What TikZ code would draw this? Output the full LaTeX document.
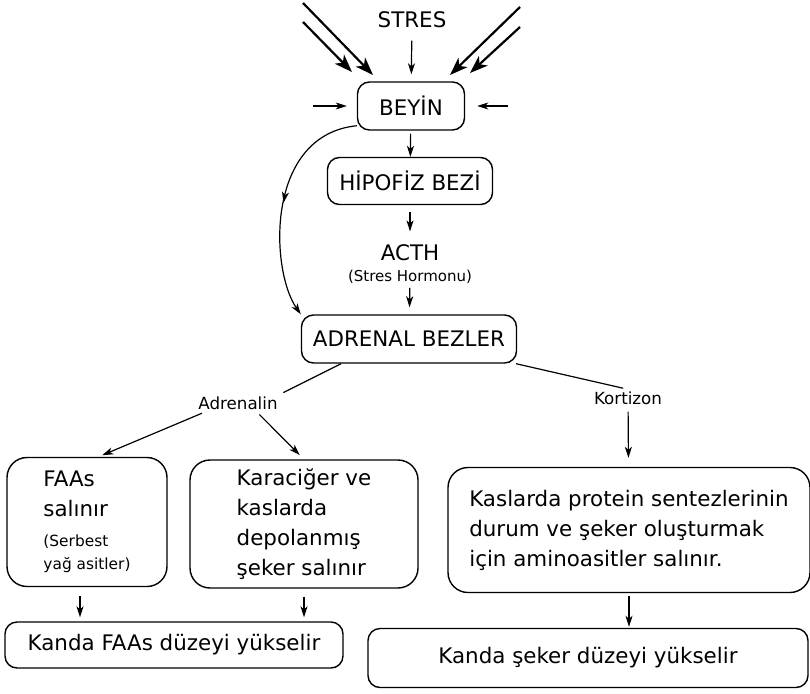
\documentclass[tikz,border=0pt]{standalone}
\usepackage{fontspec}
\setmainfont{DejaVu Sans}
\usetikzlibrary{arrows.meta,decorations.markings}

\begin{document}
\begin{tikzpicture}[x=1pt,y=-1pt,>={Stealth[length=11pt,width=7pt,inset=3pt]},
  kutu/.style={draw,line width=1.4pt,rounded corners=12pt,font=\fontsize{21.4}{30}\selectfont},
  buyukkutu/.style={kutu,rounded corners=20pt,align=left},
  etiket/.style={font=\fontsize{16.7}{20}\selectfont,inner sep=2pt},
  ince/.style={line width=1.2pt},
  kalin/.style={line width=2.2pt,-{Stealth[length=18pt,width=13pt,inset=5pt]}}]
\useasboundingbox (0,0) rectangle (810,693);
\node[font=\fontsize{21.4}{26}\selectfont] (stres) at (412,20) {STRES};
\node[kutu,minimum width=107pt,minimum height=48pt] (beyin) at (411,106) {BEYİN};
\node[kutu,minimum width=165pt,minimum height=47pt] (hipofiz) at (410,181) {HİPOFİZ BEZİ};
\node[font=\fontsize{21.4}{26}\selectfont] (acth) at (410,253) {ACTH};
\node[font=\fontsize{15}{18}\selectfont,inner sep=2pt] (hormon) at (410,277) {(Stres Hormonu)};
\node[kutu,minimum width=215pt,minimum height=48pt] (adrenal) at (409,339) {ADRENAL BEZLER};
\node[etiket] (adrenalin) at (238,403) {Adrenalin};
\node[etiket] (kortizon) at (628,398) {Kortizon};
\node[buyukkutu,minimum width=160pt,minimum height=129pt] (faas) at (87,522)
  {FAAs\\salınır\\{\fontsize{15.4}{22}\selectfont (Serbest}\\[-7pt]{\fontsize{15.4}{22}\selectfont yağ asitler)}};
\node[buyukkutu,minimum width=228pt,minimum height=128pt] (karaciger) at (304,524)
  {Karaciğer ve\\kaslarda\\depolanmış\\şeker salınır};
\node[buyukkutu,minimum width=362pt,minimum height=125pt] (kaslarda) at (629,530)
  {Kaslarda protein sentezlerinin\\durum ve şeker oluşturmak\\için aminoasitler salınır.};
\node[kutu,minimum width=338pt,minimum height=46pt] (sonsol) at (174,645) {Kanda FAAs düzeyi yükselir};
\node[kutu,minimum width=440pt,minimum height=59pt] (sonsag) at (588,658) {Kanda şeker düzeyi yükselir};
\coordinate (sol1) at (303,3);
\coordinate (sol1uc) at (373,75);
\coordinate (sol2) at (303,22);
\coordinate (sol2uc) at (352,72);
\coordinate (sag1) at (520,7);
\coordinate (sag1uc) at (450,75);
\coordinate (sag2) at (520,27);
\coordinate (sag2uc) at (470,73);
\coordinate (solok) at (313,106);
\coordinate (sagok) at (508,106);
\draw[kalin] (sol1) -- (sol1uc);
\draw[kalin] (sol2) -- (sol2uc);
\draw[kalin] (sag1) -- (sag1uc);
\draw[kalin] (sag2) -- (sag2uc);
\draw[ince,->,shorten <=9pt,shorten >=7pt] (stres) -- (beyin);
\draw[ince,->,shorten >=10pt] (solok) -- (beyin.west);
\draw[ince,->,shorten >=12pt] (sagok) -- (beyin.east);
\draw[ince,->,shorten <=3pt] (beyin) -- (hipofiz);
\draw[ince,->,shorten <=7pt,shorten >=10pt] (hipofiz) -- (acth);
\draw[ince,->,shorten <=2pt,shorten >=7pt] (hormon) -- (adrenal);
\draw[ince,->,postaction={decorate,decoration={markings,mark=at position 0.5 with {\arrow{Stealth[length=11pt,width=7pt,inset=3pt]}}}}]
  (beyin.200) .. controls (265,135) and (270,270) .. (adrenal.north west);
\draw[ince,shorten >=4pt] (adrenal.200) -- (adrenalin.north east);
\draw[ince,shorten >=5pt] (adrenal.-13) -- (kortizon.north);
\draw[ince,->,shorten <=4pt,shorten >=4pt] (adrenalin.195) -- (faas.80);
\draw[ince,->,shorten <=4pt,shorten >=6pt] (adrenalin.-25) -- (karaciger.north);
\draw[ince,->,shorten <=5pt,shorten >=9pt] (kortizon) -- (kaslarda);
\draw[ince,->,shorten <=3pt,shorten >=1pt] (kaslarda.south) -- (kaslarda.south |- sonsag.north);
\draw[ince,->,shorten <=9pt,shorten >=4pt] ([xshift=-7pt]faas.south) -- ([xshift=-7pt]faas.south |- sonsol.north);
\draw[ince,->,shorten <=8pt,shorten >=4pt] (karaciger.south) -- (karaciger.south |- sonsol.north);
\end{tikzpicture}
\end{document}
